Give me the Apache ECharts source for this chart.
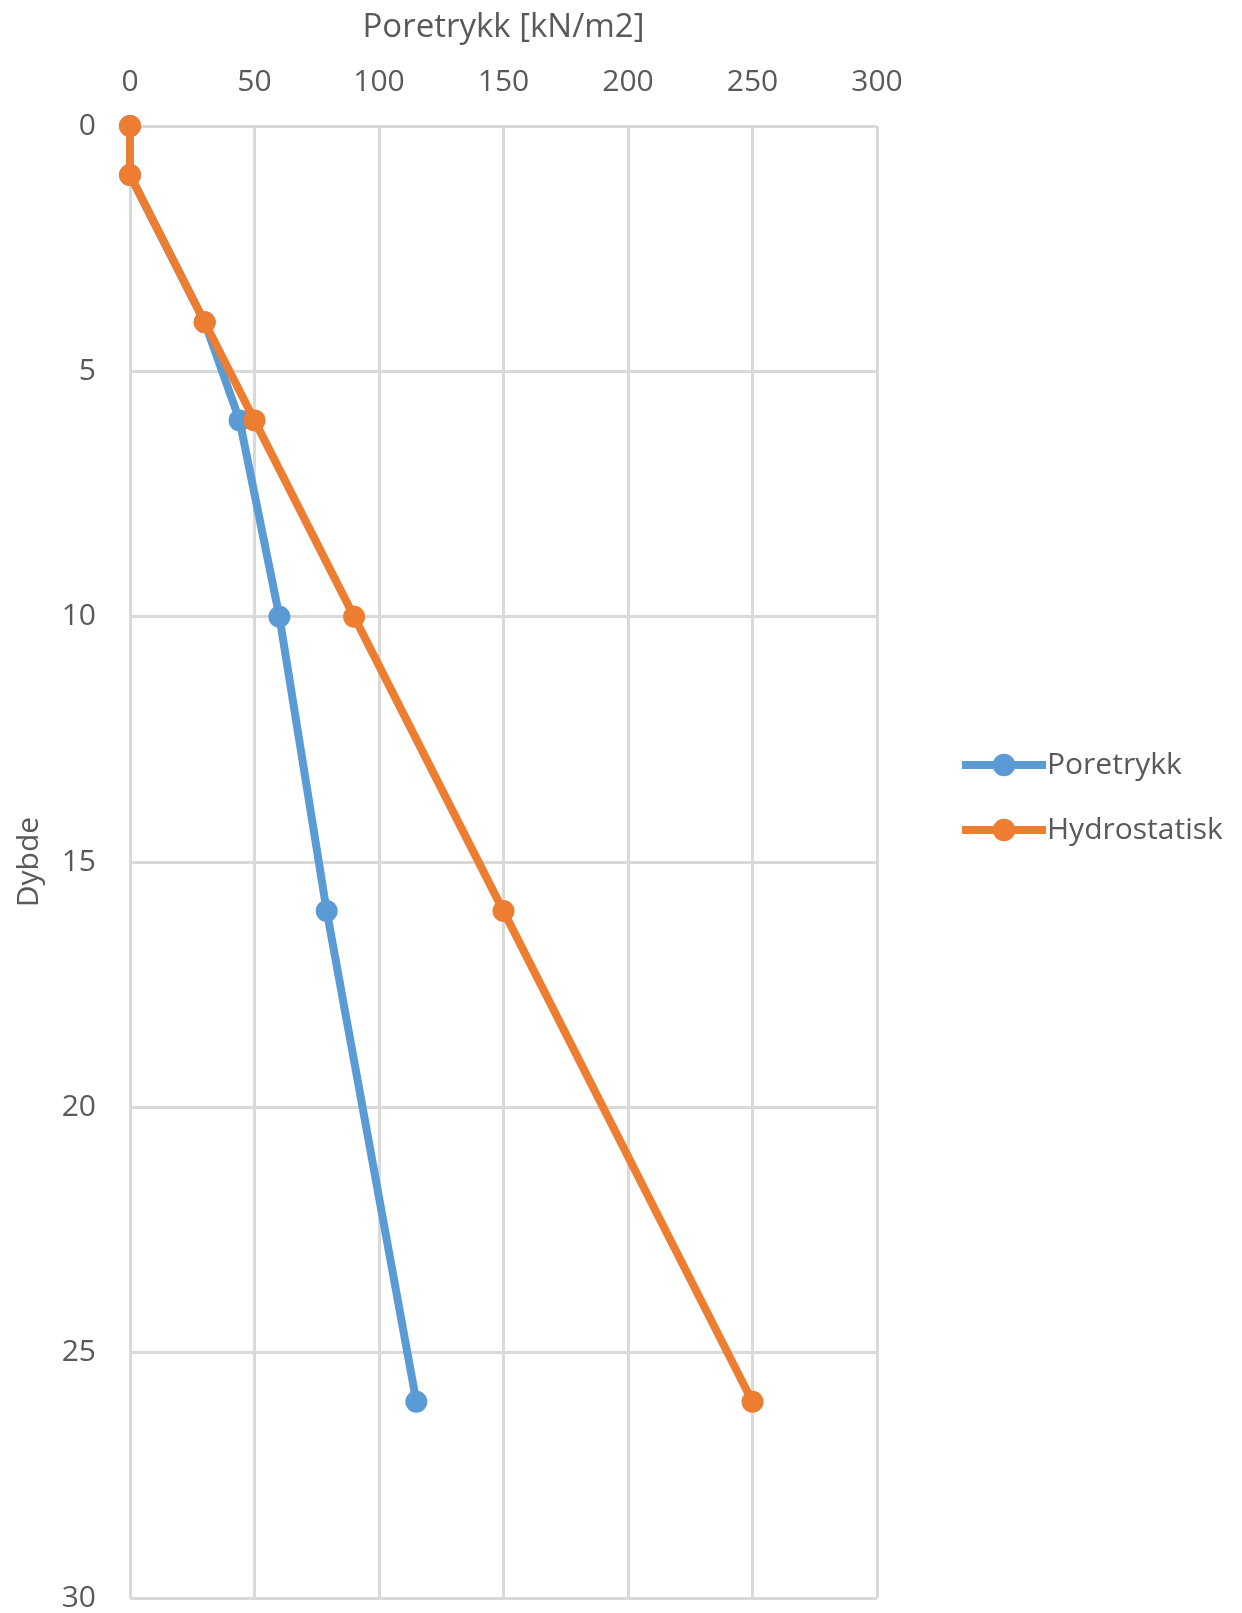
<!DOCTYPE html>
<html>
<head>
<meta charset="utf-8">
<title>Poretrykk</title>
<script src="https://cdn.jsdelivr.net/npm/echarts@6/dist/echarts.min.js"></script>
<style>
  html, body { margin: 0; padding: 0; background: #ffffff; }
  #chart { width: 1242px; height: 1613px; }
</style>
</head>
<body>
<div id="chart"></div>
<script>
// Depth (m) and pore pressure (kN/m2) per series
const depths = [0, 1, 4, 6, 10, 16, 26];
const poretrykk = [0, 0, 30, 44, 60, 79, 115];
const hydrostatisk = [0, 0, 30, 50, 90, 150, 250];

const xTicks = { min: 0, max: 300, interval: 50 };
const yTicks = { min: 0, max: 30, interval: 5 };

const seriesNames = ['Poretrykk', 'Hydrostatisk'];
const seriesColors = ['#5b9bd5', '#ed7d31'];

const FONT = '"Open Sans", "Noto Sans", sans-serif';
const TEXT = '#595959';
const GRID = '#d9d9d9';

function pairs(values) {
  return values.map((v, i) => [v, depths[i]]);
}

const chart = echarts.init(document.getElementById('chart'), null, { renderer: 'canvas' });

chart.setOption({
  backgroundColor: '#ffffff',
  animation: false,
  textStyle: { fontFamily: FONT },
  grid: {
    left: 130, right: 365, top: 126, bottom: 15,
    containLabel: false,
    outerBoundsMode: 'none'
  },
  legend: {
    orient: 'vertical',
    left: 953,
    top: 745,
    itemWidth: 84,
    itemHeight: 28,
    itemGap: 35,
    lineStyle: { width: 'inherit' },
    textStyle: { fontFamily: FONT, fontSize: 30, color: TEXT, padding: [0, 0, 0, -4] },
    data: seriesNames
  },
  xAxis: {
    type: 'value',
    position: 'top',
    min: xTicks.min,
    max: xTicks.max,
    interval: xTicks.interval,
    name: 'Poretrykk [kN/m2]',
    nameLocation: 'middle',
    nameGap: 82,
    nameTextStyle: { fontFamily: FONT, fontSize: 33, color: TEXT },
    axisLine: { show: false },
    axisTick: { show: false },
    axisLabel: { fontFamily: FONT, fontSize: 30, color: TEXT, margin: 29 },
    splitLine: { show: true, lineStyle: { color: GRID, width: 3 } }
  },
  yAxis: {
    type: 'value',
    inverse: true,
    min: yTicks.min,
    max: yTicks.max,
    interval: yTicks.interval,
    name: 'Dybde',
    nameLocation: 'middle',
    nameGap: 86,
    nameRotate: 90,
    nameTextStyle: { fontFamily: FONT, fontSize: 30, color: TEXT },
    axisLine: { show: false },
    axisTick: { show: false },
    axisLabel: { fontFamily: FONT, fontSize: 30, color: TEXT, margin: 34 },
    splitLine: { show: true, lineStyle: { color: GRID, width: 3 } }
  },
  series: [
    {
      name: seriesNames[0],
      type: 'line',
      data: pairs(poretrykk),
      color: seriesColors[0],
      symbol: 'circle',
      symbolSize: 22,
      lineStyle: { width: 8, color: seriesColors[0] },
      itemStyle: { color: seriesColors[0] },
      z: 2
    },
    {
      name: seriesNames[1],
      type: 'line',
      data: pairs(hydrostatisk),
      color: seriesColors[1],
      symbol: 'circle',
      symbolSize: 22,
      lineStyle: { width: 8, color: seriesColors[1] },
      itemStyle: { color: seriesColors[1] },
      z: 3
    }
  ]
});
</script>
</body>
</html>
